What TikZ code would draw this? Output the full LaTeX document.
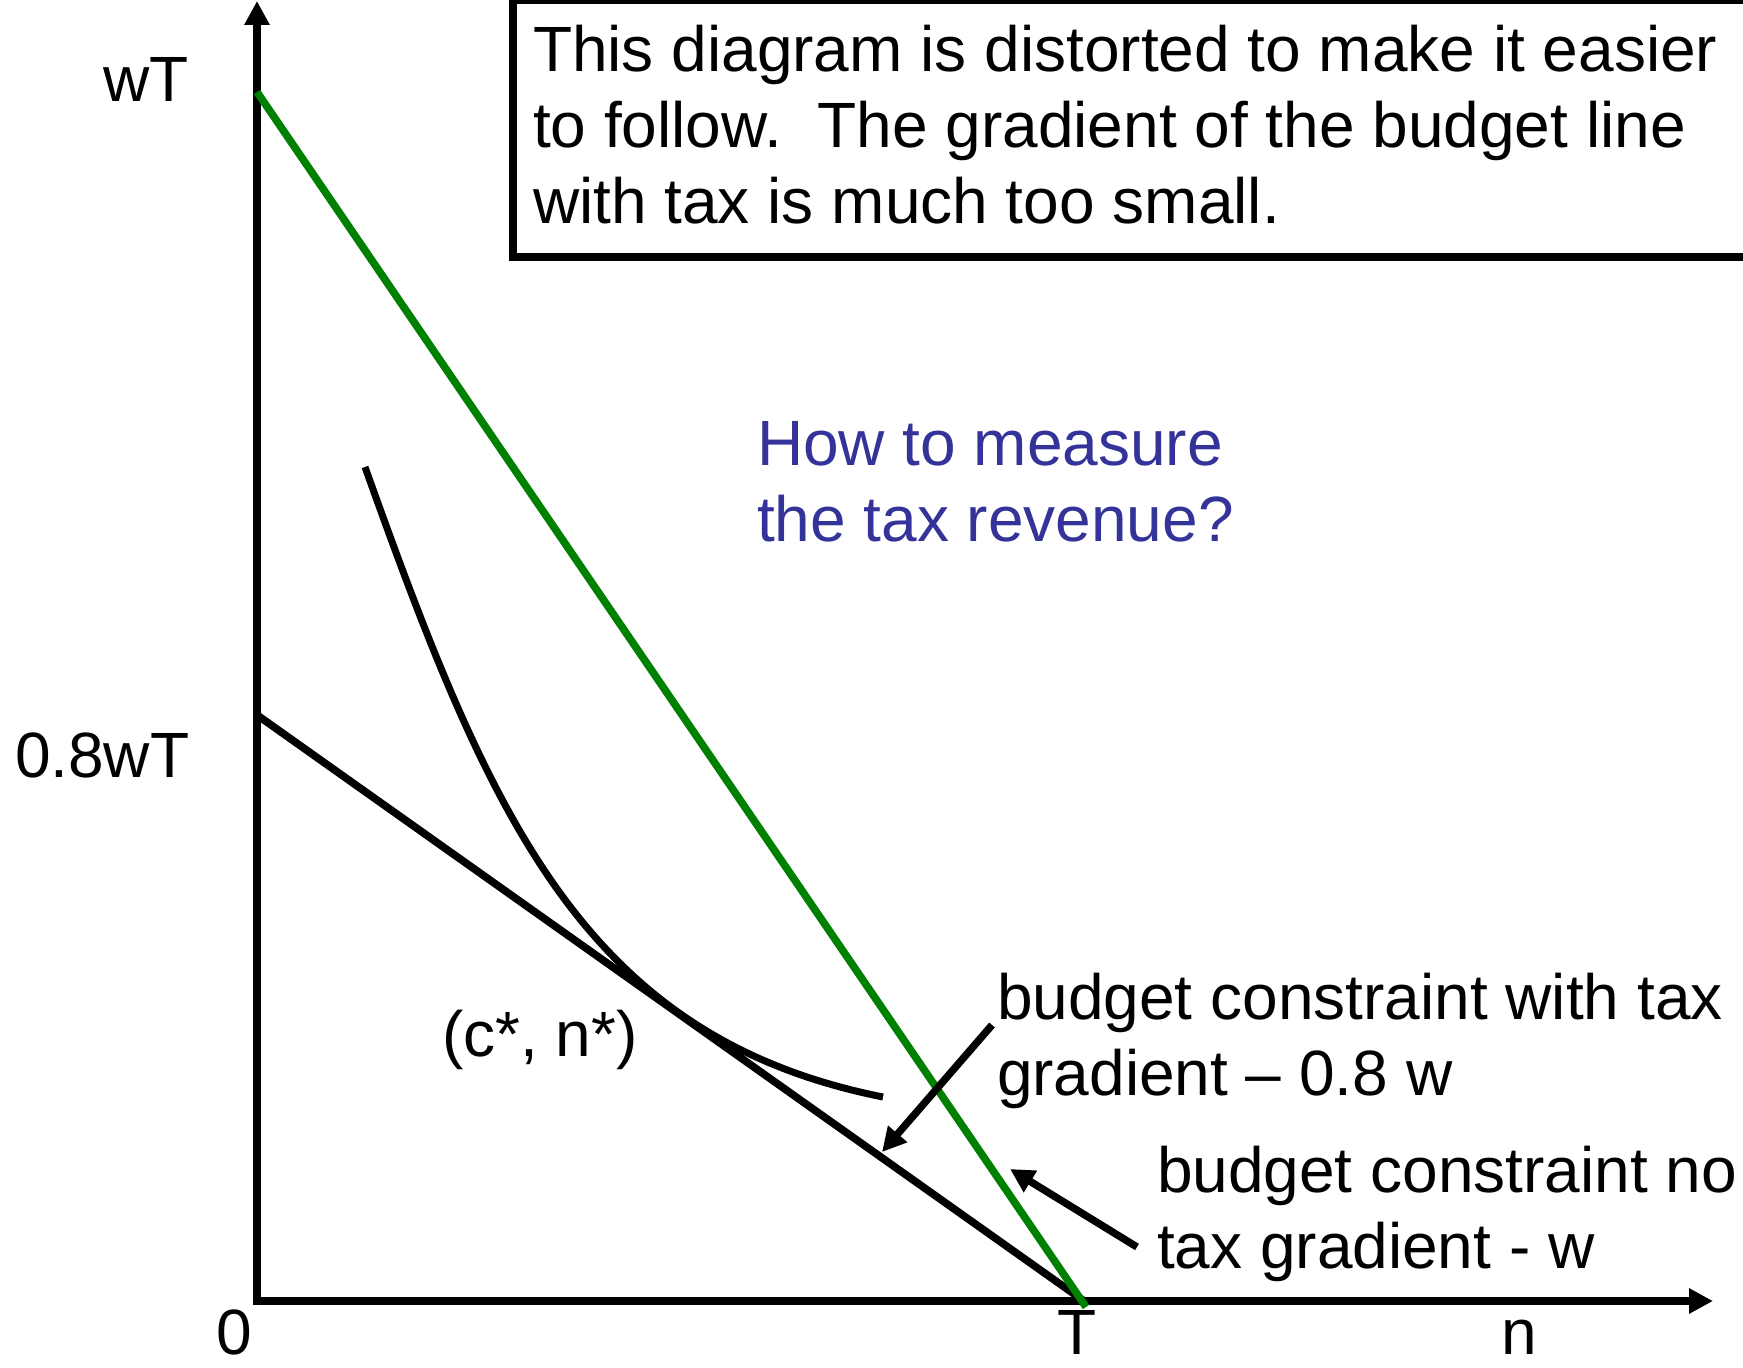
\documentclass[tikz,border=0pt]{standalone}
\usepackage{fontspec}
\setmainfont{Liberation Sans}
\usetikzlibrary{arrows.meta}
\definecolor{lineGreen}{HTML}{008000}
\definecolor{qBlue}{HTML}{333399}
\tikzset{axistip/.tip={Triangle[length=12pt,width=12pt]}}
\begin{document}
\begin{tikzpicture}[x=0.5pt,y=-0.5pt,
  lbl/.style={inner sep=0pt,outer sep=0pt,font=\fontsize{32}{38}\selectfont,anchor=base west},
  lblc/.style={lbl,anchor=base},
  multi/.style={lbl,align=left},
  pointer/.style={line width=3.7pt,-{Triangle[length=12pt,width=12pt]}},
  budget/.style={line width=3.8pt},
  curveln/.style={line width=3.5pt}
]
\useasboundingbox (0,0) rectangle (1743,1368);
% axes
\coordinate (O) at (257,1301);
\coordinate (ytop) at (257,1);
\coordinate (xend) at (1713,1301);
\draw[line width=4pt,axistip-axistip] (ytop) -- (O) -- (xend);
% budget lines
\coordinate (gtop) at (257,92);
\coordinate (gbot) at (1086,1307);
\coordinate (btop) at (257,715);
\coordinate (T0) at (1084,1301);
\draw[budget] (btop) -- (T0);
\draw[budget,lineGreen] (gtop) -- (gbot);
% indifference curve
\coordinate (c0) at (365,467);
\coordinate (c1) at (883,1097);
\draw[curveln] (c0) .. controls (490,817) and (583,1037) .. (c1);
% text box
\draw[line width=3.8pt] (513,0) rectangle (1760,257);
\node[multi] (note) at (533,224) {This diagram is distorted to make it easier\\to follow.\ \ The gradient of the budget line\\with tax is much too small.};
% axis labels
\node[lbl] (wT) at (103,102) {wT};
\node[lbl] (wT8) at (15,777) {0.8wT};
\node[lbl] (zero) at (216,1354) {0};
\node[lblc] (Tl) at (1077,1354) {T};
\node[lblc] (nl) at (1519,1354) {n};
\node[lbl] (cn) at (442,1056) {(c*, n*)};
% question
\node[multi,text=qBlue] (q) at (757,542) {How to measure\\the tax revenue?};
% annotations
\node[multi] (withtax) at (997,1095) {budget constraint with tax\\gradient – 0.8 w};
\node[multi] (notax) at (1157,1268) {budget constraint no\\tax gradient - w};
\coordinate (a1s) at (992,1025);
\coordinate (a1e) at (882,1152);
\coordinate (a2s) at (1137,1247);
\coordinate (a2e) at (1010,1169);
\draw[pointer] (a1s) -- (a1e);
\draw[pointer] (a2s) -- (a2e);
\end{tikzpicture}
\end{document}
